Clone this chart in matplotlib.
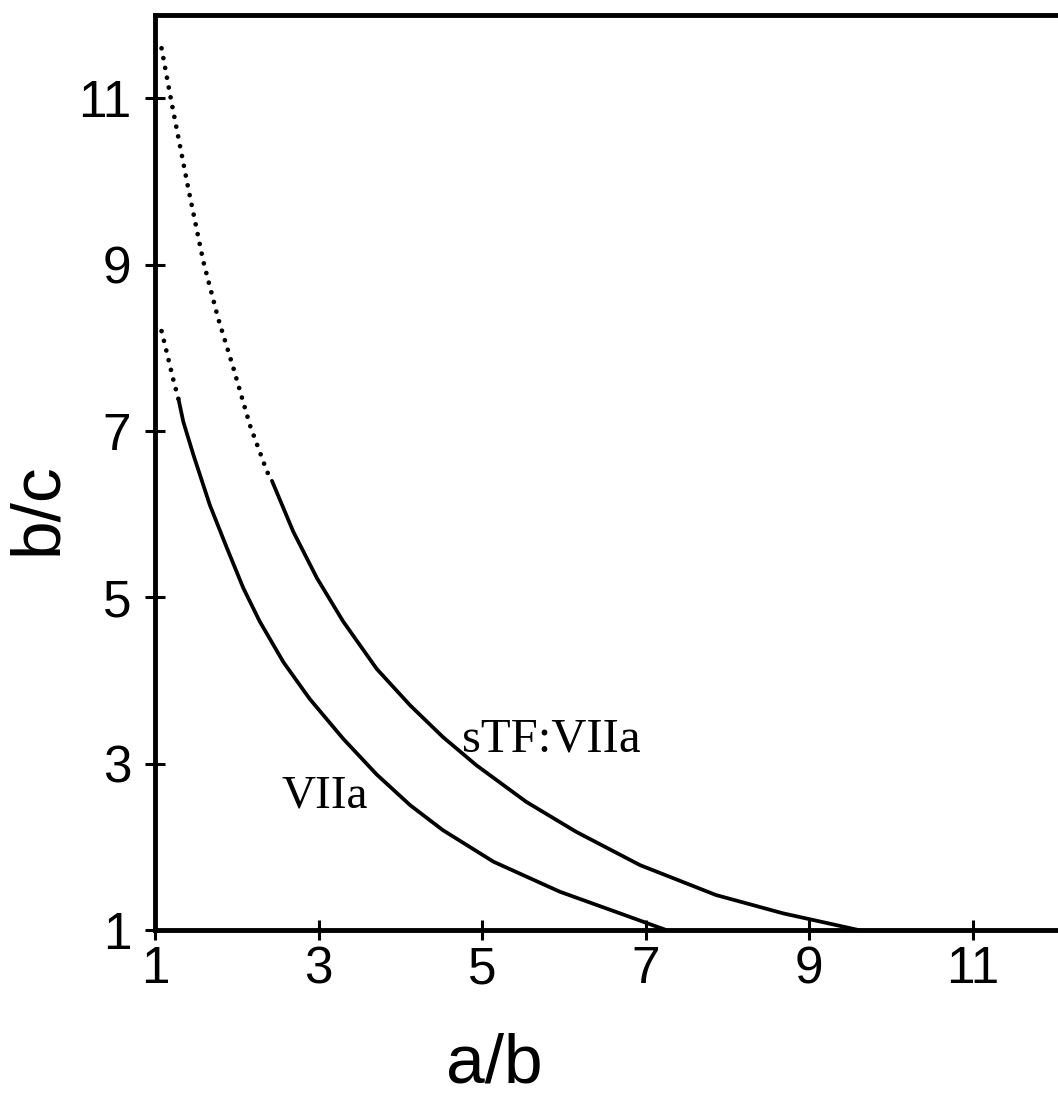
import matplotlib.pyplot as plt
import numpy as np

# sTF:VIIa curve, dotted part then solid part
stf_dot_x = [1.08, 1.20, 1.41, 1.59, 1.77, 1.96, 2.16, 2.37, 2.43]
stf_dot_y = [11.60, 10.96, 9.90, 9.04, 8.36, 7.75, 7.07, 6.51, 6.40]
stf_x = [2.43, 2.69, 2.98, 3.30, 3.71, 4.12, 4.52, 4.93, 5.54, 6.15, 6.93, 7.86, 8.68, 9.60]
stf_y = [6.40, 5.79, 5.23, 4.71, 4.14, 3.70, 3.32, 2.98, 2.54, 2.18, 1.78, 1.42, 1.20, 1.00]

# VIIa curve, dotted part then solid part
vii_dot_x = [1.08, 1.14, 1.22, 1.29]
vii_dot_y = [8.20, 7.96, 7.63, 7.37]
vii_x = [1.29, 1.346, 1.47, 1.67, 1.88, 2.08, 2.28, 2.57, 2.89, 3.30, 3.71, 4.12, 4.52,
         5.14, 5.95, 6.77, 7.05, 7.25]
vii_y = [7.37, 7.11, 6.71, 6.11, 5.59, 5.11, 4.71, 4.22, 3.78, 3.30, 2.87, 2.50, 2.20,
         1.82, 1.46, 1.17, 1.07, 1.00]

ticks = [1, 3, 5, 7, 9, 11]

fig = plt.figure(figsize=(10.58, 11.03), dpi=100)
ax = fig.add_axes([155 / 1058, 173 / 1103, 903 / 1058, 915 / 1103])

# dotted continuation of both curves near a/b = 1
dot_style = dict(color='black', lw=3.4, linestyle=(0, (0.01, 2.1)), dash_capstyle='round')
ax.plot(stf_dot_x, stf_dot_y, **dot_style)
ax.plot(vii_dot_x, vii_dot_y, **dot_style)
ax.plot(stf_x, stf_y, color='black', lw=2.7, solid_capstyle='round', solid_joinstyle='round')
ax.plot(vii_x, vii_y, color='black', lw=2.7, solid_capstyle='round', solid_joinstyle='round')

ax.text(4.75, 3.14, 'sTF:VIIa', fontsize=35, family='Liberation Serif', va='baseline')
ax.text(2.55, 2.47, 'VIIa', fontsize=34, family='Liberation Serif', va='baseline')

ax.set_xlim(1, 12.04)
ax.set_ylim(1, 12.0)
ax.set_xticks(ticks)
ax.set_yticks(ticks)
ax.tick_params(direction='inout', length=14, width=2.2, labelsize=37)
ax.tick_params(axis='x', pad=4)
ax.tick_params(axis='y', pad=10)
for lab in ax.get_xticklabels() + ax.get_yticklabels():
    lab.set_family('Liberation Sans')

for side in ['left', 'bottom', 'top']:
    ax.spines[side].set_linewidth(3.5)
ax.spines['right'].set_visible(False)

ax.set_xlabel('a/b', fontsize=50, family='Liberation Sans')
ax.set_ylabel('b/c', fontsize=50, family='Liberation Sans')
ax.xaxis.set_label_coords(0.376, -0.112)
ax.yaxis.set_label_coords(-0.094, 0.461)

fig.savefig('out.png', dpi=100)
